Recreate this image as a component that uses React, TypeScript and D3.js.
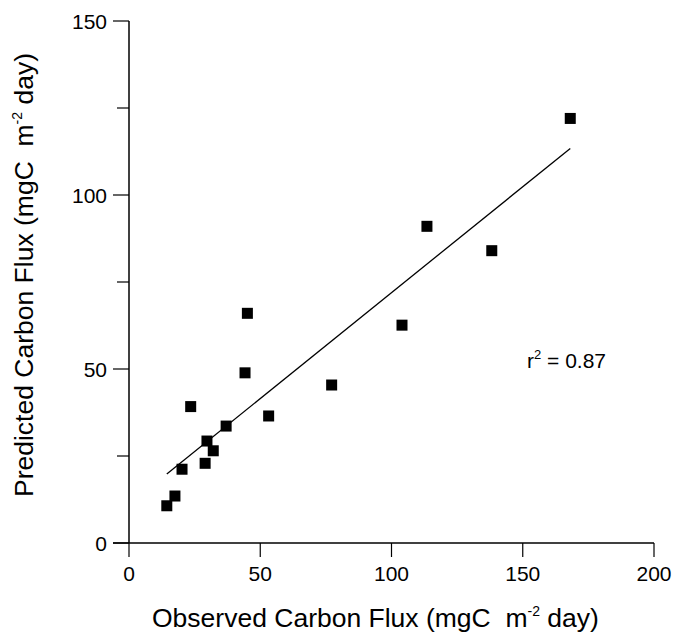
import React from "react";
import * as d3 from "d3";

const observed = [14.4, 17.5, 20.2, 29.0, 32.1, 29.7, 37.0, 23.5, 53.2, 44.2, 45.1, 77.2, 104.0, 138.2, 113.5, 168.1];
const predicted = [10.7, 13.5, 21.2, 22.9, 26.5, 29.3, 33.6, 39.2, 36.5, 48.9, 66.0, 45.4, 62.6, 84.0, 91.0, 122.0];
const xTicks = [0, 50, 100, 150, 200];
const yTicks = [0, 25, 50, 75, 100, 125, 150];
const yLabels = [0, 50, 100, 150];
const r2Label = "0.87";

const W = 678;
const H = 634;
const FONT = "Liberation Sans, Arial, Helvetica, sans-serif";

export default function App() {
  const x = d3.scaleLinear().domain([0, 200]).range([129, 654]);
  const y = d3.scaleLinear().domain([0, 150]).range([543, 21]);

  const mx = d3.mean(observed) as number;
  const my = d3.mean(predicted) as number;
  let sxy = 0, sxx = 0;
  observed.forEach((v, i) => {
    sxy += (v - mx) * (predicted[i] - my);
    sxx += (v - mx) * (v - mx);
  });
  const slope = sxy / sxx;
  const intercept = my - slope * mx;
  const [xmin, xmax] = d3.extent(observed) as [number, number];
  const fit = d3.line<number>().x((d) => x(d)).y((d) => y(intercept + slope * d));

  const sq = 11;

  return (
    <svg width={W} height={H} style={{ position: "absolute", left: 0, top: 0, background: "#fff" }} fontFamily={FONT}>
      <rect width={W} height={H} fill="#fff" />
      {/* axes */}
      <line x1={x(0)} x2={x(0)} y1={y(150)} y2={y(0)} stroke="#000" strokeWidth={1.5} />
      <line x1={x(0) - 16} x2={x(200)} y1={y(0)} y2={y(0)} stroke="#000" strokeWidth={1.5} />
      {xTicks.map((t) => (
        <g key={"xt" + t}>
          <line x1={x(t)} x2={x(t)} y1={y(0)} y2={y(0) + 14} stroke="#000" strokeWidth={1.2} />
          <text x={x(t)} y={581} textAnchor="middle" fontSize={21} fill="#000">{t}</text>
        </g>
      ))}
      {yTicks.map((t) => (
        <line key={"yt" + t} x1={x(0) - (yLabels.includes(t) ? 16 : 12)} x2={x(0)} y1={y(t)} y2={y(t)} stroke="#000" strokeWidth={1.2} />
      ))}
      {yLabels.map((t) => (
        <text key={"yl" + t} x={107} y={y(t)} dy="0.36em" textAnchor="end" fontSize={21} fill="#000">{t}</text>
      ))}
      {/* fit line */}
      <path d={fit([xmin, xmax]) as string} fill="none" stroke="#000" strokeWidth={1.3} />
      {/* points */}
      {observed.map((v, i) => (
        <rect key={"p" + i} x={x(v) - sq / 2} y={y(predicted[i]) - sq / 2} width={sq} height={sq} fill="#000" />
      ))}
      {/* r2 label */}
      <text x={527} y={368} fontSize={21} fill="#000">
        r<tspan fontSize={13} dy={-9}>2</tspan><tspan dy={9}> = {r2Label}</tspan>
      </text>
      {/* x title */}
      <text x={152} y={627} fontSize={26.5} fill="#000" style={{ whiteSpace: "pre" }}>
        {"Observed Carbon Flux (mgC  m"}<tspan fontSize={14} dy={-11}>-2</tspan><tspan dy={11}>{" day)"}</tspan>
      </text>
      {/* y title */}
      <text transform="translate(33,497) rotate(-90)" fontSize={26.5} fill="#000" style={{ whiteSpace: "pre" }}>
        {"Predicted Carbon Flux (mgC  m"}<tspan fontSize={14} dy={-11}>-2</tspan><tspan dy={11}>{" day)"}</tspan>
      </text>
    </svg>
  );
}
